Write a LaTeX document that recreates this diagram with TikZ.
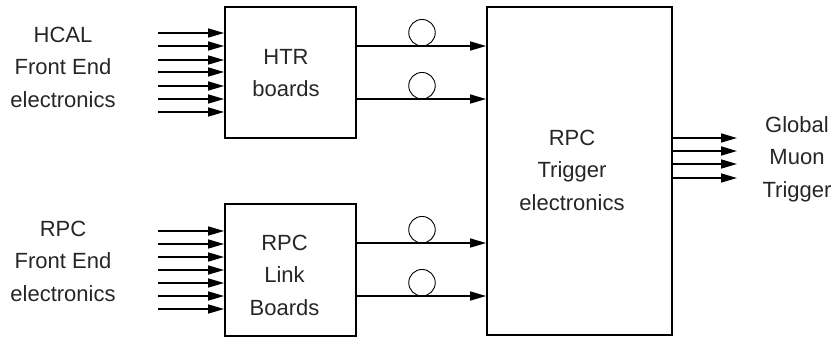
\documentclass[tikz,border=0pt]{standalone}
\usepackage{fontspec}
\setmainfont{Liberation Sans}
\usetikzlibrary{arrows.meta}
\begin{document}
\begin{tikzpicture}[x=1pt,y=-1pt,
  board/.style={draw=black,line width=1.8pt,inner sep=0pt},
  lbl/.style={align=center,text=black!85,inner sep=0pt,font=\fontsize{22}{32.5}\selectfont},
  sig/.style={line width=1.6pt,-{Triangle[length=16pt,width=9pt]}},
  fiber/.style={circle,draw=black,line width=0.9pt,minimum size=26.5pt,inner sep=0pt}
]
\useasboundingbox (0,0) rectangle (833,338);
% boxes
\node[board,minimum width=131pt,minimum height=131pt] (htr) at (290.5,72.5) {};
\node[board,minimum width=131pt,minimum height=132pt] (link) at (290.5,270) {};
\node[board,minimum width=185pt,minimum height=328pt] (trig) at (579.5,171) {};
% labels
\node[lbl] (htrtxt) at (286,73) {HTR\\boards};
\node[lbl] (linktxt) at (284.5,275) {RPC\\Link\\Boards};
\node[lbl] (trigtxt) at (572,170) {RPC\\Trigger\\electronics};
\node[lbl] (hcal) at (63,67) {HCAL\\Front End\\electronics};
\node[lbl] (rpcfe) at (63,261) {RPC\\Front End\\electronics};
\node[lbl] (gmt) at (797,159) {Global\\Muon\\Trigger};
% input arrows
\foreach \y [count=\i] in {33,46,60,72,86,99,112} {
  \coordinate (h\i) at (158,\y);
  \draw[sig] (h\i) -- (h\i -| htr.west);
}
\foreach \y [count=\i] in {231,244,257,270,283,296,309} {
  \coordinate (r\i) at (158,\y);
  \draw[sig] (r\i) -- (r\i -| link.west);
}
% output links with fibre circles
\foreach \y/\b [count=\i] in {46/htr,99/htr,243/link,296/link} {
  \coordinate (o\i) at (356,\y);
  \draw[sig] (o\i -| \b.east) -- (o\i -| trig.west);
  \node[fiber] (c\i) at (422,\y-13.3) {};
}
% outputs to global muon trigger
\foreach \y [count=\i] in {138,151,164,178} {
  \coordinate (g\i) at (737,\y);
  \draw[sig] (g\i -| trig.east) -- (g\i);
}
\end{tikzpicture}
\end{document}
